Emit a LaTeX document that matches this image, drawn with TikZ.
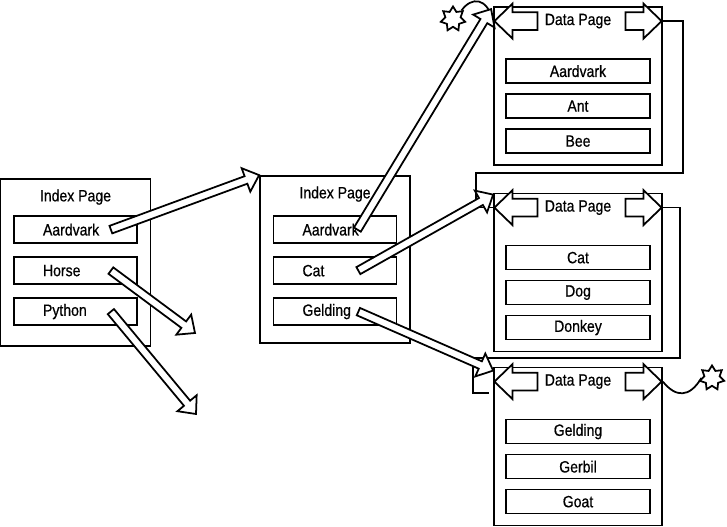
\documentclass[tikz,border=0pt]{standalone}
\usepackage{fontspec}
\setmainfont{Liberation Sans}[FakeStretch=0.86,FakeBold=0.6]
\usepackage{tikz}
\usetikzlibrary{shapes,arrows,positioning,calc}

% hollow block arrow from #1 to #2
\newcommand{\hollowarrow}[2]{%
    \coordinate (hb) at ($(#2)!0.28cm!(#1)$);
    \draw [fill=white, line join=miter] ($(#1)!0.08cm!90:(#2)$) -- ($(hb)!0.08cm!-90:(#1)$) -- ($(hb)!0.25cm!-90:(#1)$) -- (#2) -- ($(hb)!0.25cm!90:(#1)$) -- ($(hb)!0.08cm!90:(#1)$) -- ($(#1)!0.08cm!-90:(#2)$) -- cycle;
}

\begin{document}
\begin{tikzpicture}[
    font=\fontsize{9.3}{11}\selectfont,
    line width=1pt,
    node distance=0.82cm,
    page/.style={rectangle, draw, minimum width=3cm, minimum height=3.34cm},
    dpage/.style={rectangle, draw, minimum width=3.36cm, minimum height=3.16cm},
    ientry/.style={rectangle, draw, minimum width=2.46cm, minimum height=0.54cm, text width=1.3cm, align=left, inner sep=0pt},
    dentry/.style={rectangle, draw, minimum width=2.88cm, minimum height=0.48cm, inner sep=0pt},
    lpoint/.style={single arrow, draw, fill=white, shape border rotate=180, single arrow tip angle=88, single arrow head extend=0.17cm, inner xsep=0pt, inner ysep=0.16cm, minimum height=0.86cm, anchor=tip},
    rpoint/.style={single arrow, draw, fill=white, single arrow tip angle=88, single arrow head extend=0.17cm, inner xsep=0pt, inner ysep=0.16cm, minimum height=0.72cm, anchor=tip},
    marker/.style={star, star points=7, star point ratio=1.6, draw, minimum size=0.5cm, inner sep=0pt}
]
    \useasboundingbox (0,0) rectangle (14.54,10.54);

    % index pages
    \node (ip1) [page] at (1.51,5.29) {};
    \node (it1) at ([yshift=-0.38cm]ip1.north) {Index Page};
    \node (i1a) [ientry, node distance=0.65cm, below of=it1] {Aardvark};
    \node (i1b) [ientry, below of=i1a] {Horse};
    \node (i1c) [ientry, below of=i1b] {Python};

    \node (ip2) [page] at (6.70,5.35) {};
    \node (it2) at ([yshift=-0.38cm]ip2.north) {Index Page};
    \node (i2a) [ientry, node distance=0.71cm, below of=it2] {Aardvark};
    \node (i2b) [ientry, below of=i2a] {Cat};
    \node (i2c) [ientry, below of=i2b] {Gelding};

    % data pages
    \node (dp1) [dpage] at (11.56,8.82) {};
    \node (dt1) at ([yshift=-0.30cm]dp1.north) {Data Page};
    \node (d1a) [dentry, node distance=1.00cm, below of=dt1] {Aardvark};
    \node (d1b) [dentry, node distance=0.70cm, below of=d1a] {Ant};
    \node (d1c) [dentry, node distance=0.70cm, below of=d1b] {Bee};

    \node (dp2) [dpage] at (11.56,5.09) {};
    \node (dt2) at ([yshift=-0.30cm]dp2.north) {Data Page};
    \node (d2a) [dentry, node distance=1.00cm, below of=dt2] {Cat};
    \node (d2b) [dentry, node distance=0.70cm, below of=d2a] {Dog};
    \node (d2c) [dentry, node distance=0.70cm, below of=d2b] {Donkey};

    \node (dp3) [dpage] at (11.56,1.61) {};
    \node (dt3) at ([yshift=-0.30cm]dp3.north) {Data Page};
    \node (d3a) [dentry, node distance=1.00cm, below of=dt3] {Gelding};
    \node (d3b) [dentry, node distance=0.70cm, below of=d3a] {Gerbil};
    \node (d3c) [dentry, node distance=0.70cm, below of=d3b] {Goat};

    % page pointers
    \node (d1l) [lpoint] at (dt1 -| dp1.west) {};
    \node (d1r) [rpoint] at (dt1 -| dp1.east) {};
    \node (d2l) [lpoint] at (dt2 -| dp2.west) {};
    \node (d2r) [rpoint] at (dt2 -| dp2.east) {};
    \node (d3l) [lpoint] at (dt3 -| dp3.west) {};
    \node (d3r) [rpoint] at (dt3 -| dp3.east) {};

    \node (st1) [marker] at (9.06,10.16) {};
    \node (st2) [marker] at (14.24,2.98) {};

    \coordinate (k1) at (9.52,7.08);
    \coordinate (k2) at (9.46,3.38);
    \coordinate (k3) at (9.78,2.68);

    \draw (d1r.tip) -- ++(0.40,0) |- (k1) |- (d2l.tip);
    \draw (d2r.tip) -- ++(0.34,0) |- (k2) |- (k3);
    \draw (st1.north east) .. controls +(0.2,0.28) and +(-0.12,0.48) .. (d1l.tip);
    \draw (d3r.tip) .. controls +(0.26,-0.32) and +(-0.24,-0.40) .. (st2.west);

    % key pointers
    \coordinate (s1) at ([xshift=-0.54cm]i1a.east);
    \coordinate (s2) at ([xshift=-0.54cm]i1b.east);
    \coordinate (s3) at ([xshift=-0.54cm]i1c.east);
    \coordinate (s4) at ([xshift=-0.80cm]i2a.east);
    \coordinate (s5) at ([xshift=-0.78cm]i2b.east);
    \coordinate (s6) at ([xshift=-0.78cm]i2c.east);
    \coordinate (e2) at (3.90,3.88);
    \coordinate (e3) at (3.92,2.26);
    \coordinate (e4) at ([shift={(-0.04,-0.06)}]dp1.north west);
    \coordinate (e5) at ([yshift=-0.04cm]dp2.north west);
    \coordinate (e6) at ([yshift=-0.08cm]dp3.north west);

    \hollowarrow{s1}{ip2.north west}
    \hollowarrow{s2}{e2}
    \hollowarrow{s3}{e3}
    \hollowarrow{s4}{e4}
    \hollowarrow{s5}{e5}
    \hollowarrow{s6}{e6}
\end{tikzpicture}
\end{document}
